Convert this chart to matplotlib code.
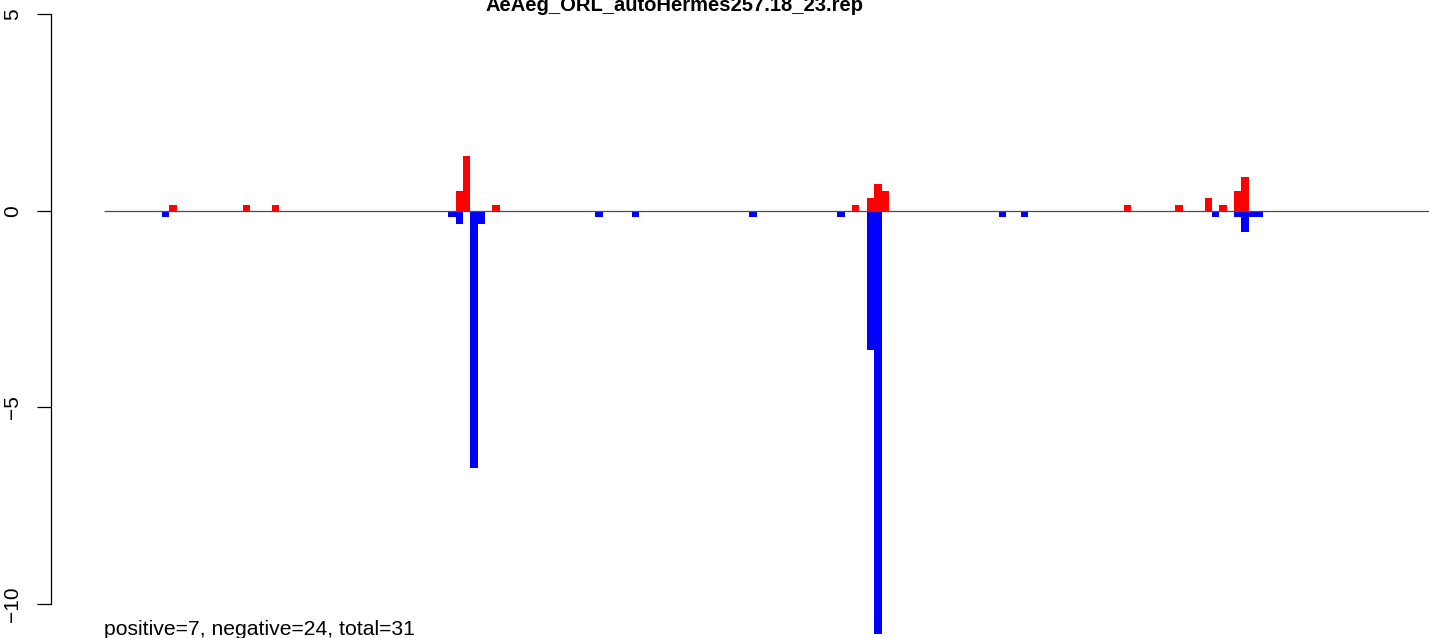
import matplotlib
matplotlib.use("Agg")
import matplotlib.pyplot as plt

plt.rcParams['font.family'] = ['Liberation Sans', 'DejaVu Sans']

# --- data (bin index, value) ---
title = "AeAeg_ORL_autoHermes257.18_23.rep"
footer = "positive=7, negative=24, total=31"

red_pos = [1, 11, 15, 40, 41, 45, 94, 96, 97, 98, 131, 138, 142, 144, 146, 147]
red_val = [0.15, 0.15, 0.15, 0.5, 1.4, 0.15, 0.15, 0.33, 0.69, 0.51,
           0.15, 0.15, 0.33, 0.15, 0.51, 0.86]

blue_pos = [0, 39, 40, 42, 43, 59, 64, 80, 92, 96, 97, 114, 117,
            143, 146, 147, 148, 149]
blue_val = [-0.17, -0.17, -0.35, -6.53, -0.35, -0.17, -0.17, -0.17, -0.17,
            -3.53, -10.75, -0.17, -0.17, -0.17, -0.17, -0.53, -0.17, -0.17]

y_ticks = [-10, -5, 0, 5]
y_labels = ["\u221210", "\u22125", "0", "5"]

# --- figure ---
W, H = 1429, 638
fig = plt.figure(figsize=(W / 100, H / 100), dpi=100)
ax = fig.add_axes([51 / W, 0, (W - 51) / W, 1])

ax.bar(red_pos, red_val, width=1.0, align='edge', color='red', linewidth=0)
ax.bar(blue_pos, blue_val, width=1.0, align='edge', color='blue', linewidth=0)

ax.set_xlim(-15.12, 172.57)
ax.set_ylim(-10.864, 5.356)

# zero line
ax.hlines(0, -7.9, 172.57, color='#4d4d4d', linewidth=0.9)

# R style axis on the left only
for s in ['top', 'right', 'bottom']:
    ax.spines[s].set_visible(False)
ax.spines['left'].set_bounds(-10, 5)
ax.spines['left'].set_linewidth(0.9)
ax.set_xticks([])
ax.set_yticks(y_ticks)
ax.set_yticklabels(y_labels, rotation=90, va='center', fontsize=15)
ax.tick_params(axis='y', length=10, width=0.9, pad=11)

fig.text(675 / W, 1 - 11 / H, title, ha='center', va='baseline',
         fontsize=14.5, fontweight='bold')
fig.text(104 / W, 1 - 635 / H, footer, ha='left', va='baseline', fontsize=15.2)

fig.savefig("out.png", dpi=100)
